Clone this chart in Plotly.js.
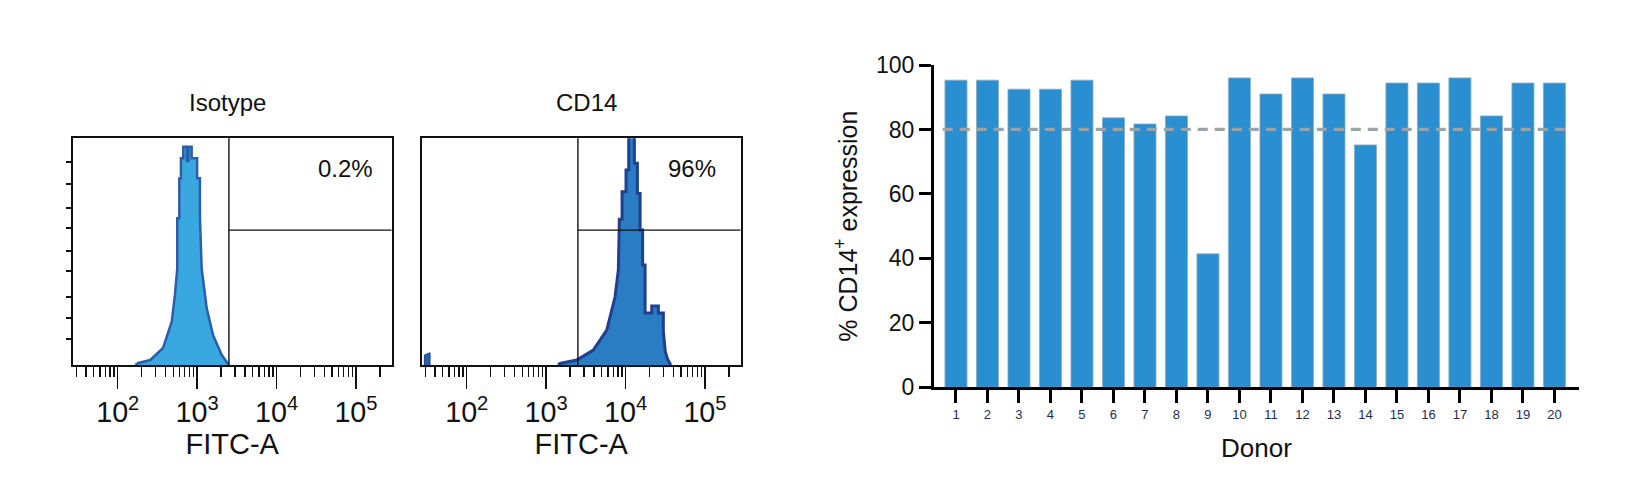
<!DOCTYPE html>
<html>
<head>
<meta charset="utf-8">
<script src="https://cdn.plot.ly/plotly-3.0.1.min.js"></script>
<style>
  html, body { margin: 0; padding: 0; background: #ffffff; }
  #chart { width: 1650px; height: 480px; }
</style>
</head>
<body>
<div id="chart"></div>
<script>
// ---- Flow cytometry histograms (FITC-A intensity vs. normalized event count) ----
// Isotype control outline
const isoFITC  = [166, 182, 257, 372, 479, 525, 562, 562, 596, 596, 625, 625, 668, 668, 741, 741, 776, 776, 853, 853, 1000, 1000, 1084, 1084, 1140, 1318, 1585, 2042, 2455, 2512];
const isoCount = [0,   0.9, 2.2, 7.5, 19.1, 30.9, 42.6, 64.7, 64.7, 82.3, 82.3, 91.2, 91.2, 96.3, 96.3, 90, 90, 96.3, 96.3, 91.2, 91.2, 82.4, 82.4, 65.4, 42.6, 25.1, 13.2, 4.4, 0.5, 0];

// CD14 stained outline
const cd14FITC  = [1413, 1496, 2427, 3926, 5794, 7379, 8110, 8222, 8356, 8356, 9036, 9036, 10139, 10139, 10965, 10965, 12912, 12912, 14093, 14093, 15241, 15241, 16406, 16406, 17620, 17620, 21380, 21380, 25882, 25882, 29923, 29923, 31623, 33884, 37154];
const cd14Count = [0,    0.7,  2.2,  6.6,  15.4, 30.1, 41.9, 52,   52,   64.3, 64.3, 76.4, 76.4,  86.0,  86.0,  110,   110,   89.0,  89.0,  75.7,  75.7,  59.5,  59.5,  44.1,  44.1,  22.9,  22.9,  26.0,  26.0,  22.9,  22.9,  14.7,  6.0,   2.5,   0];

// CD14 events piled up at the low end of the scale
const cd14LowFITC  = [29.3, 29.3, 34.5, 34.5];
const cd14LowCount = [0, 4.4, 5.4, 0];

// Quadrant gate
const gateFITC = 2512;
const gateCount = 59.5;

const panelTitles = ['Isotype', 'CD14'];
const positiveLabels = ['0.2%', '96%'];
const fitcRange = [1.433, 5.45];   // log10 decades shown
const countTicks = [11.3, 20.7, 30.1, 41.5, 50.4, 60.6, 69.4, 80.0, 89.4];

// ---- Donor CD14+ expression ----
const donors = [1, 2, 3, 4, 5, 6, 7, 8, 9, 10, 11, 12, 13, 14, 15, 16, 17, 18, 19, 20];
const cd14Pct = [95.3, 95.3, 92.5, 92.5, 95.3, 83.6, 81.7, 84.2, 41.4, 96.0, 91.0, 96.0, 91.0, 75.2, 94.4, 94.4, 96.0, 84.2, 94.4, 94.4];
const threshold = 80;

const W = 1650, H = 480;
const px = v => v / W;
const py = v => (H - v) / H;

const sans = 'Liberation Sans, Arial, Helvetica, sans-serif';
const ink = '#111111';
const navy = '#1e2d4f';

const traces = [
  {
    type: 'scatter', mode: 'lines', x: isoFITC, y: isoCount,
    xaxis: 'x', yaxis: 'y', fill: 'tozeroy', fillcolor: '#3aa8e0',
    line: { color: '#2b5ea8', width: 2.5 }, hoverinfo: 'skip'
  },
  {
    type: 'scatter', mode: 'lines', x: cd14FITC, y: cd14Count,
    xaxis: 'x2', yaxis: 'y2', fill: 'tozeroy', fillcolor: '#2a7cc3',
    line: { color: '#1f3f8f', width: 3 }, hoverinfo: 'skip'
  },
  {
    type: 'scatter', mode: 'lines', x: cd14LowFITC, y: cd14LowCount,
    xaxis: 'x2', yaxis: 'y2', fill: 'toself', fillcolor: '#2a5fae',
    line: { color: '#1f3f8f', width: 1 }, hoverinfo: 'skip'
  },
  {
    type: 'bar', x: donors, y: cd14Pct, xaxis: 'x3', yaxis: 'y3',
    width: 0.7, marker: { color: '#2a8fd0', line: { color: '#8fa9bd', width: 0.8 } },
    hoverinfo: 'skip'
  }
];

function histX(domain, title) {
  return {
    type: 'log', range: fitcRange, domain: domain,
    showline: true, linewidth: 2, linecolor: ink, mirror: true,
    ticks: 'outside', ticklen: 22, tickwidth: 1.5, tickcolor: ink,
    dtick: 1, exponentformat: 'power',
    tickfont: { family: sans, size: 23, color: ink },
    minor: { ticks: 'outside', ticklen: 10, tickwidth: 1.3, tickcolor: ink, dtick: 'D1', showgrid: false },
    showgrid: false, zeroline: false,
    title: { text: title, font: { family: sans, size: 29, color: ink }, standoff: 2 }
  };
}
function histY(domain, withTicks) {
  return {
    range: [0, 100], domain: domain,
    showline: true, linewidth: 2, linecolor: ink, mirror: true,
    ticks: withTicks ? 'outside' : '', ticklen: 5, tickwidth: 2, tickcolor: ink,
    tickmode: 'array', tickvals: withTicks ? countTicks : [], showticklabels: false,
    showgrid: false, zeroline: false
  };
}

const histYDomain = [py(365), py(138.3)];

const layout = {
  width: W, height: H,
  margin: { l: 0, r: 0, t: 0, b: 0 },
  paper_bgcolor: '#ffffff', plot_bgcolor: '#ffffff',
  showlegend: false,
  xaxis: Object.assign(histX([px(72.7), px(391.7)], 'FITC-A'), { anchor: 'y' }),
  yaxis: Object.assign(histY(histYDomain, true), { anchor: 'x' }),
  xaxis2: Object.assign(histX([px(421.7), px(740.7)], 'FITC-A'), { anchor: 'y2' }),
  yaxis2: Object.assign(histY(histYDomain, false), { anchor: 'x2' }),
  xaxis3: {
    anchor: 'y3', domain: [px(934), px(1579)], range: [0.302, 20.78],
    tickmode: 'array', tickvals: donors, ticktext: donors.map(String),
    showline: true, linewidth: 3, linecolor: '#000000',
    ticks: 'outside', ticklen: 13, tickwidth: 3, tickcolor: '#000000',
    tickfont: { family: sans, size: 13, color: navy },
    showgrid: false, zeroline: false,
    title: { text: 'Donor', font: { family: sans, size: 26, color: ink }, standoff: 18 }
  },
  yaxis3: {
    anchor: 'x3', domain: [py(387.3), py(65)], range: [0, 100], dtick: 20,
    showline: true, linewidth: 3, linecolor: '#000000',
    ticks: 'outside', ticklen: 12, tickwidth: 3, tickcolor: '#000000',
    tickfont: { family: sans, size: 23, color: ink },
    showgrid: false, zeroline: false,
    title: { text: '% CD14<sup>+</sup> expression', font: { family: sans, size: 25, color: ink }, standoff: 12 }
  },
  shapes: [
    // quadrant gates
    { type: 'line', xref: 'x', yref: 'y domain', x0: gateFITC, x1: gateFITC, y0: 0, y1: 1, line: { color: ink, width: 1.4 } },
    { type: 'line', xref: 'x', yref: 'y', x0: gateFITC, x1: Math.pow(10, fitcRange[1]), y0: gateCount, y1: gateCount, line: { color: ink, width: 1.4 } },
    { type: 'line', xref: 'x2', yref: 'y2 domain', x0: gateFITC, x1: gateFITC, y0: 0, y1: 1, line: { color: ink, width: 1.4 } },
    { type: 'line', xref: 'x2', yref: 'y2', x0: gateFITC, x1: Math.pow(10, fitcRange[1]), y0: gateCount, y1: gateCount, line: { color: ink, width: 1.4 } },
    // 80 % threshold
    { type: 'line', xref: 'x3', yref: 'y3', x0: 0.58, x1: 20.43, y0: threshold, y1: threshold, layer: 'above',
      line: { color: '#9aa3a8', width: 3.2, dash: '10px,7px' } }
  ],
  annotations: [
    { text: panelTitles[0], xref: 'paper', yref: 'paper', x: px(227), y: py(102), showarrow: false,
      xanchor: 'center', yanchor: 'middle', font: { family: sans, size: 24, color: ink } },
    { text: panelTitles[1], xref: 'paper', yref: 'paper', x: px(586.7), y: py(102), showarrow: false,
      xanchor: 'center', yanchor: 'middle', font: { family: sans, size: 24, color: ink } },
    { text: positiveLabels[0], xref: 'paper', yref: 'paper', x: px(345.5), y: py(168.5), showarrow: false,
      xanchor: 'center', yanchor: 'middle', font: { family: sans, size: 24, color: ink } },
    { text: positiveLabels[1], xref: 'paper', yref: 'paper', x: px(691.7), y: py(168.5), showarrow: false,
      xanchor: 'center', yanchor: 'middle', font: { family: sans, size: 24, color: ink } }
  ]
};

Plotly.newPlot('chart', traces, layout, { staticPlot: true, displayModeBar: false });
</script>
</body>
</html>
